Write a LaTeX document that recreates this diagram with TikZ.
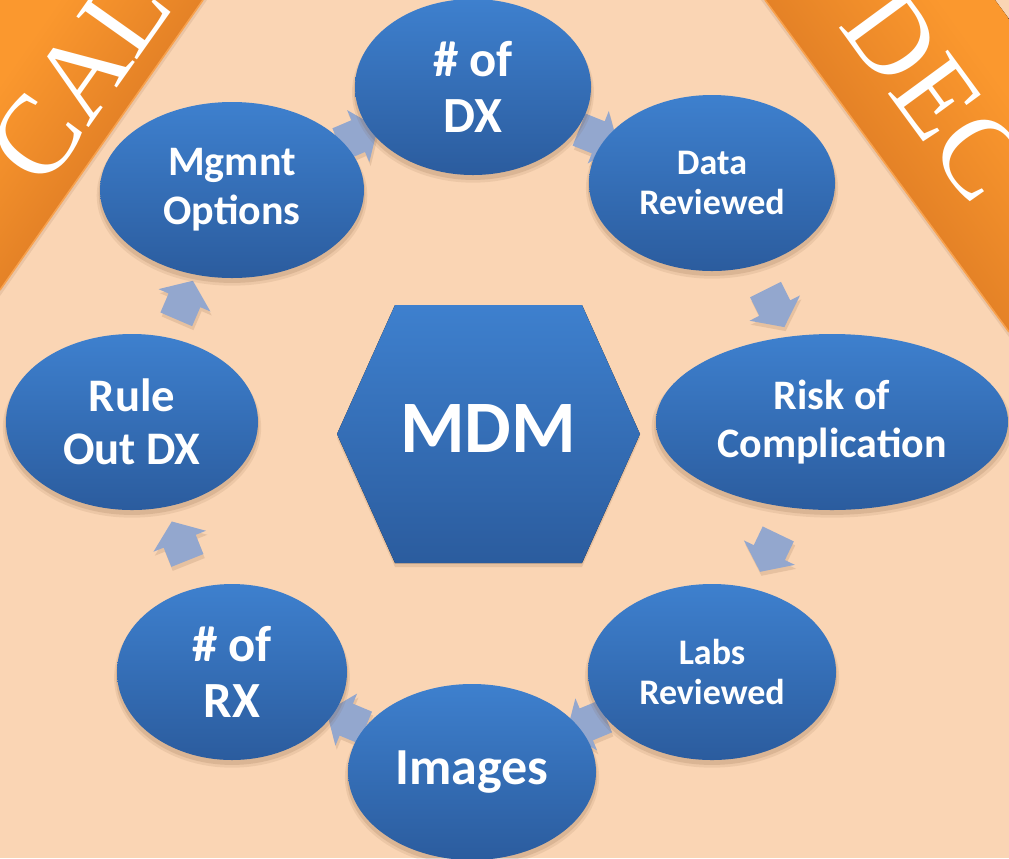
\documentclass[tikz,border=0pt]{standalone}
\usepackage{fontspec}
\setmainfont{Carlito}
\newfontfamily\bannerfont{Liberation Serif}
\usetikzlibrary{shapes.geometric,shapes.arrows,shadows}
\definecolor{bgpeach}{RGB}{250,213,180}
\definecolor{ellTop}{RGB}{62,128,206}
\definecolor{ellBot}{RGB}{43,92,158}
\definecolor{arrTop}{RGB}{170,190,226}
\definecolor{arrBot}{RGB}{128,148,190}
\definecolor{bandLight}{RGB}{251,152,46}
\definecolor{bandDark}{RGB}{206,108,31}
\definecolor{bandEdge}{RGB}{248,162,78}
\definecolor{shadowcol}{RGB}{120,80,50}
\pgfdeclarelayer{bannerlayer}
\pgfdeclarelayer{arrowlayer}
\pgfsetlayers{bannerlayer,arrowlayer,main}
\begin{document}
\begin{tikzpicture}[x=0.75pt,y=-0.75pt,
  softshadow/.style={
    drop shadow={shadow xshift=0pt, shadow yshift=-4pt, shadow scale=1.025, opacity=0.10, fill=shadowcol},
    drop shadow={shadow xshift=0pt, shadow yshift=-3pt, shadow scale=1.01, opacity=0.15, fill=shadowcol}},
  ell/.style={ellipse, inner sep=0pt, minimum height=132pt, top color=ellTop, bottom color=ellBot,
    text=white, align=center, softshadow},
  hexbox/.style={top color=ellTop, bottom color=ellBot},
  cyclearrow/.style={single arrow, draw=none, fill=arrBot!55!arrTop, inner xsep=0pt, inner ysep=12.75pt,
    minimum height=31.5pt, single arrow head extend=8.25pt, single arrow tip angle=106,
    allow upside down,
    drop shadow={shadow xshift=1pt, shadow yshift=-3pt, opacity=0.15, fill=shadowcol}},
  bandtext/.style={anchor=base, text=white, font=\bannerfont\fontsize{85}{90}\selectfont},
  fa/.style={font=\bfseries\fontsize{38}{42}\selectfont},
  fb/.style={font=\bfseries\fontsize{31.5}{36.5}\selectfont},
  fc/.style={font=\bfseries\fontsize{27}{30}\selectfont},
  fd/.style={font=\bfseries\fontsize{35}{40}\selectfont}
]
\useasboundingbox (0,0) rectangle (1009,858);

% nodes of the cycle
\node[ell, fa, minimum width=177pt] (dx) at (473,87) {\#~of\\DX};
\node[ell, fc, minimum width=184.5pt] (data) at (712,183) {Data\\Reviewed};
\node[ell, fb, minimum width=264pt] (risk) at (832,422) {Risk of\\Complication};
\node[ell, fc, minimum width=186pt] (labs) at (712,672) {Labs\\Reviewed};
\node[ell, font=\bfseries\fontsize{39}{44}\selectfont, minimum width=186pt] (images) at (472,772) {Images};
\node[ell, fa, minimum width=172.5pt] (rx) at (232,672) {\#~of\\RX};
\node[ell, fd, minimum width=189pt] (rule) at (132,422) {Rule\\Out DX};
\node[ell, fb, minimum width=198pt] (mgmnt) at (232,190) {Mgmnt\\Options};

% centre hexagon
\coordinate (hexc) at (488,434);
\begin{pgfonlayer}{arrowlayer}
\fill[shadowcol, opacity=0.15] (hexc) ++(-151,4) -- ++(58,-129) -- ++(187,0) -- ++(58,129) -- ++(-58,129) -- ++(-187,0) -- cycle;
\fill[hexbox] (hexc) ++(-151,0) -- ++(58,-129) -- ++(187,0) -- ++(58,129) -- ++(-58,129) -- ++(-187,0) -- cycle;
\end{pgfonlayer}
\node[text=white, font=\bfseries\fontsize{55.5}{60}\selectfont] (mdm) at (488,428) {MDM};

% arrows between the cycle nodes
\begin{pgfonlayer}{arrowlayer}
\path (dx.center) -- (data.center) node[cyclearrow, midway, sloped] (a1) {};
\path (data.center) -- (risk.center) node[cyclearrow, midway, sloped] (a2) {};
\path (risk.center) -- (labs.center) node[cyclearrow, midway, sloped] (a3) {};
\path (labs.center) -- (images.center) node[cyclearrow, midway, sloped] (a4) {};
\path (images.center) -- (rx.center) node[cyclearrow, midway, sloped] (a5) {};
\path (rx.center) -- (rule.center) node[cyclearrow, midway, sloped] (a6) {};
\path (rule.center) -- (mgmnt.center) node[cyclearrow, midway, sloped] (a7) {};
\path (mgmnt.center) -- (dx.center) node[cyclearrow, midway, sloped] (a8) {};
\end{pgfonlayer}

% background and banners
\begin{pgfonlayer}{bannerlayer}
\fill[bgpeach] (0,0) rectangle (1009,858);
\fill[shadowcol, opacity=0.12] (0,0) -- (207,0) -- (0,296) -- cycle;
\fill[top color=bandLight, bottom color=bandDark, shading angle=55] (0,0) -- (203,0) -- (0,290) -- cycle;
\draw[bandEdge, line width=1.2pt] (203,0) -- (0,290);
\fill[shadowcol, opacity=0.12] (761,0) -- (995,0) -- (1009,19) -- (1009,337) -- cycle;
\fill[top color=bandLight, bottom color=bandDark, shading angle=-54] (765,0) -- (995,0) -- (1009,19) -- (1009,332) -- cycle;
\draw[bandEdge, line width=1.2pt] (765,0) -- (1009,332);
\node[bandtext, rotate=54.7] (cal) at (110,98) {CAL};
\node[bandtext, rotate=-53.7] (dec) at (905,117) {DEC};
\end{pgfonlayer}
\end{tikzpicture}
\end{document}
